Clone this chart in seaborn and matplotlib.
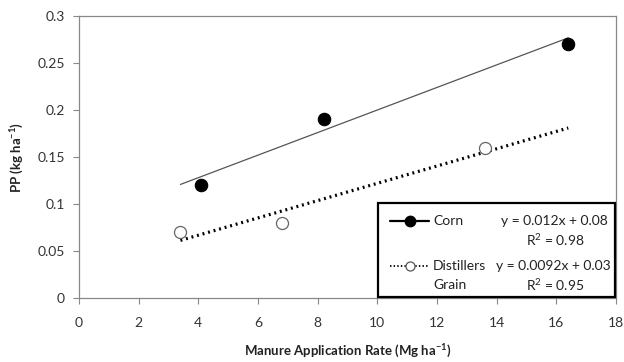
import matplotlib
matplotlib.use("Agg")
import matplotlib.pyplot as plt
import seaborn as sns
import pandas as pd
import numpy as np
from matplotlib.lines import Line2D
from matplotlib.patches import Rectangle

corn_x = [4.1, 8.2, 16.4]
corn_y = [0.12, 0.19, 0.27]
dg_x = [3.4, 6.8, 13.6]
dg_y = [0.07, 0.08, 0.16]
corn_fit = (0.012, 0.08)
dg_fit = (0.0092, 0.03)
x_ticks = [0, 2, 4, 6, 8, 10, 12, 14, 16, 18]
y_ticks = [0, 0.05, 0.1, 0.15, 0.2, 0.25, 0.3]
y_ticklabels = ["0", "0.05", "0.1", "0.15", "0.2", "0.25", "0.3"]

sns.set_theme(style="white")
plt.rcParams['font.family'] = ['Lato', 'DejaVu Sans']
plt.rcParams['mathtext.fontset'] = 'custom'
plt.rcParams['mathtext.rm'] = 'Lato'
plt.rcParams['mathtext.it'] = 'Lato:italic'
plt.rcParams['mathtext.bf'] = 'Lato:bold'
plt.rcParams['axes.unicode_minus'] = False

fig = plt.figure(figsize=(6.24, 3.62), dpi=100)
ax = fig.add_axes([0.1266, 0.1768, 0.8606, 0.779])

xmin, xmax = min(corn_x + dg_x), max(corn_x + dg_x)
line_df = pd.DataFrame({"x": [xmin, xmax]})
line_df["corn"] = corn_fit[0] * line_df["x"] + corn_fit[1]
line_df["dg"] = dg_fit[0] * line_df["x"] + dg_fit[1]

sns.lineplot(data=line_df, x="x", y="corn", ax=ax, color="#555555", lw=0.9)
sns.lineplot(data=line_df, x="x", y="dg", ax=ax, color="black", lw=2.3,
             linestyle=(0, (0.6, 1.2)))

sns.scatterplot(x=corn_x, y=corn_y, ax=ax, s=80, color="black",
                edgecolor="black", linewidth=0.8, zorder=5)
sns.scatterplot(x=dg_x, y=dg_y, ax=ax, s=75, color="white",
                edgecolor="#666666", linewidth=0.9, zorder=5)

ax.set_xlim(0, 18)
ax.set_ylim(0, 0.3)
ax.set_xticks(x_ticks)
ax.set_xticklabels([str(t) for t in x_ticks])
ax.set_yticks(y_ticks)
ax.set_yticklabels(y_ticklabels)
ax.tick_params(axis="both", which="major", direction="out", length=4,
               width=0.8, color="#888888", labelsize=10, labelcolor="#333333",
               bottom=True, left=True, pad=6)
ax.tick_params(axis="x", pad=10)
for sp in ax.spines.values():
    sp.set_color("#888888")
    sp.set_linewidth(0.9)

ax.set_xlabel("Manure Application Rate (Mg ha$^{\\mathbf{-1}}$)", fontsize=9.5,
              fontweight="bold", color="#222222", labelpad=10)
ax.set_ylabel("PP (kg ha$^{\\mathbf{-1}}$)", fontsize=9.5, fontweight="bold",
              color="#222222", labelpad=8)

# legend box
ax.add_patch(Rectangle((0.557, 0.004), 0.441, 0.333, transform=ax.transAxes,
                       facecolor="white", edgecolor="black", lw=1.6,
                       zorder=6, clip_on=False))
# handles
ax.add_line(Line2D([0.579, 0.652], [0.273, 0.273], transform=ax.transAxes,
                   color="black", lw=1.6, zorder=7))
ax.add_line(Line2D([0.616], [0.273], transform=ax.transAxes, marker="o",
                   ms=7.5, color="black", zorder=8))
ax.add_line(Line2D([0.579, 0.652], [0.113, 0.113], transform=ax.transAxes,
                   color="black", lw=1.3, linestyle=(0, (0.8, 1.2)), zorder=7))
ax.add_line(Line2D([0.616], [0.113], transform=ax.transAxes, marker="o",
                   ms=6.5, mfc="white", mec="#555555", mew=0.9, zorder=8))

tk = dict(transform=ax.transAxes, fontsize=10, color="#222222", zorder=9,
          va="center")
ax.text(0.659, 0.273, "Corn", ha="left", **tk)
ax.text(0.659, 0.113, "Distillers", ha="left", **tk)
ax.text(0.659, 0.046, "Grain", ha="left", **tk)
ax.text(0.985, 0.273, "y = 0.012x + 0.08", ha="right", **tk)
ax.text(0.832, 0.205, "R$^2$ = 0.98", ha="left", **tk)
ax.text(0.99, 0.113, "y = 0.0092x + 0.03", ha="right", **tk)
ax.text(0.832, 0.046, "R$^2$ = 0.95", ha="left", **tk)

fig.savefig("out.png", dpi=100)
